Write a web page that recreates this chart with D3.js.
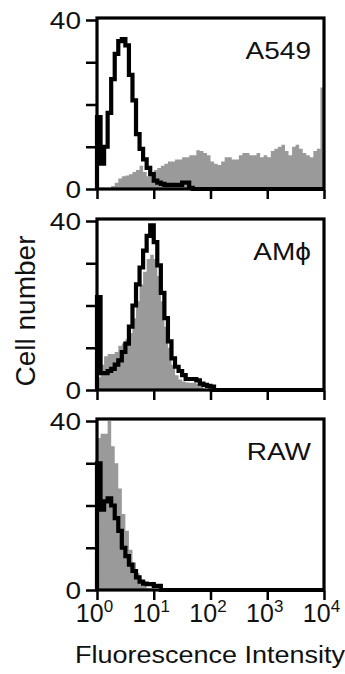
<!DOCTYPE html>
<html>
<head>
<meta charset="utf-8">
<script src="https://cdn.jsdelivr.net/npm/d3@7"></script>
<style>
  body { margin: 0; background: #fff; }
  svg text { font-family: "Liberation Sans", Arial, Helvetica, sans-serif; fill: #111; }
</style>
</head>
<body>
<svg id="chart"></svg>
<script>
// histogram channels: 16 log bins per decade, 10^0 .. 10^4
const binsPerDecade = 16;
const panelNames = ["A549", "AM\u03D5", "RAW"];

// black outline histograms (control)
const a549Line = [17, 6, 10, 18, 26, 32, 35, 35.5, 34, 27, 21, 13, 9.5, 7, 5, 3.5,
  2, 1.5, 1.2, 1, 1, 1, 1, 1, 1.5, 1.5, 0.3, 0, 0, 0, 0, 0,
  0, 0, 0, 0, 0, 0, 0, 0, 0, 0, 0, 0, 0, 0, 0, 0,
  0, 0, 0, 0, 0, 0, 0, 0, 0, 0, 0, 0, 0, 0, 0, 0];
const amLine = [22, 4, 4, 4.5, 5, 6, 7, 9, 11, 15, 20, 25, 29, 33, 36.5, 39,
  35, 29.5, 23, 17, 11.5, 7.5, 5.5, 4.5, 3.5, 2.6, 2.6, 2.6, 2.3, 1.5, 1.2, 1,
  0.8, 0, 0, 0, 0, 0, 0, 0, 0, 0, 0, 0, 0, 0, 0, 0,
  0, 0, 0, 0, 0, 0, 0, 0, 0, 0, 0, 0, 0, 0, 0, 0];
const rawLine = [30, 19, 21, 21.7, 20, 17, 14, 10, 8, 6, 4.5, 3, 2, 1.5, 1.4, 1.4,
  1, 1, 0, 0, 0, 0, 0, 0, 0, 0, 0, 0, 0, 0, 0, 0,
  0, 0, 0, 0, 0, 0, 0, 0, 0, 0, 0, 0, 0, 0, 0, 0,
  0, 0, 0, 0, 0, 0, 0, 0, 0, 0, 0, 0, 0, 0, 0, 0];

// grey filled histograms (stained)
const a549Fill = [0, 0, 0, 0, 0.7, 1.5, 2.5, 3, 3.2, 3.5, 4, 4.5, 5.5, 4, 3, 3.5,
  4.5, 5, 5.5, 6, 6.5, 6.5, 7, 7, 7.5, 7.5, 8, 8, 9.2, 9, 8.5, 8,
  6.5, 6, 5.7, 6.5, 7.5, 7.5, 7, 7, 8, 8.5, 8.5, 8, 8, 8.5, 7.5, 8,
  7.5, 9, 9.5, 10, 10.5, 9, 8, 10, 10.5, 9.5, 8.5, 8, 7.5, 9, 9.5, 24];
const amFill = [3, 6, 8, 8.5, 8.5, 9, 10.5, 11, 12, 13.5, 17, 21, 25, 28, 31, 32,
  31, 27, 21, 15, 10, 6, 3.5, 2.5, 2, 1.8, 1.7, 1.7, 1.5, 1.2, 0, 0,
  0, 0, 0, 0, 0, 0, 0, 0, 0, 0, 0, 0, 0, 0, 0, 0,
  0, 0, 0, 0, 0, 0, 0, 0, 0, 0, 0, 0, 0, 0, 0, 0];
const rawFill = [36, 37, 37, 40, 34, 30, 24, 18, 14, 9.5, 6.5, 4, 2, 1, 0.5, 0.3,
  0, 0, 0, 0, 0, 0, 0, 0, 0, 0, 0, 0, 0, 0, 0, 0,
  0, 0, 0, 0, 0, 0, 0, 0, 0, 0, 0, 0, 0, 0, 0, 0,
  0, 0, 0, 0, 0, 0, 0, 0, 0, 0, 0, 0, 0, 0, 0, 0];

const yTicks = [0, 10, 20, 30, 40];
const xTicks = [1, 10, 100, 1000, 10000];
const xTickExp = ["0", "1", "2", "3", "4"];

const panels = [
  {name: panelNames[0], line: a549Line, fill: a549Fill},
  {name: panelNames[1], line: amLine, fill: amFill},
  {name: panelNames[2], line: rawLine, fill: rawFill},
];

const width = 345, height = 674;
const margin = {left: 97, right: 21};
const panelTops = [20, 221, 421];
const panelH = 169;

const svg = d3.select("#chart")
  .attr("width", width)
  .attr("height", height);

const x = d3.scaleLog()
  .domain([1, 10000])
  .range([margin.left, width - margin.right]);

function toSteps(vals) {
  // bin i starts at 10^(i/binsPerDecade); extra point closes last bin
  let pts = [{c: 1, v: 0}];
  vals.forEach((v, i) => pts.push({c: Math.pow(10, i / binsPerDecade), v: v}));
  pts.push({c: 10000, v: vals[vals.length - 1]});
  return pts;
}

panels.forEach((p, k) => {
  const top = panelTops[k];
  const y = d3.scaleLinear()
    .domain([0, 40])
    .range([top + panelH, top]);

  const g = svg.append("g");

  const area = d3.area()
    .curve(d3.curveStepAfter)
    .x(d => x(d.c))
    .y0(y(0))
    .y1(d => y(Math.min(d.v, 40)));

  g.append("path")
    .datum(toSteps(p.fill))
    .attr("d", area)
    .attr("fill", "#9a9a9a");

  const line = d3.line()
    .curve(d3.curveStepAfter)
    .x(d => x(d.c))
    .y(d => y(Math.min(d.v, 40)));

  g.append("path")
    .datum(toSteps(p.line))
    .attr("d", line)
    .attr("fill", "none")
    .attr("stroke", "#000")
    .attr("stroke-width", 4.2)
    .attr("stroke-linejoin", "miter");

  // frame
  g.append("rect")
    .attr("x", x(1))
    .attr("y", y(40) - 2)
    .attr("width", x(10000) - x(1))
    .attr("height", y(0) - y(40) + 2)
    .attr("fill", "none")
    .attr("stroke", "#000")
    .attr("stroke-width", 3.2);

  const yAxis = g.append("g")
    .attr("transform", "translate(" + (x(1) - 1) + ",0)")
    .call(d3.axisLeft(y).tickValues(yTicks).tickSize(10).tickPadding(5)
      .tickFormat(d => (d === 0 || d === 40) ? d : ""));
  yAxis.select(".domain").remove();
  yAxis.selectAll(".tick line").attr("stroke", "#000").attr("stroke-width", 2.5);
  yAxis.selectAll(".tick text")
    .attr("font-size", 28)
    .attr("dy", "0.36em")
    .attr("transform", "scale(1,0.86)")
    .attr("fill", "#111");

  const xAxis = g.append("g")
    .attr("transform", "translate(0," + (y(0) + 1) + ")")
    .call(d3.axisBottom(x).tickValues(xTicks).tickSize(9).tickFormat(""));
  xAxis.select(".domain").remove();
  xAxis.selectAll(".tick line").attr("stroke", "#000").attr("stroke-width", 2.5);

  if (k === panels.length - 1) {
    const lab = xAxis.selectAll(".tick")
      .append("text")
      .attr("y", 31)
      .attr("x", -3)
      .attr("text-anchor", "middle")
      .attr("font-size", 25)
      .attr("fill", "#111");
    lab.append("tspan").text("10");
    lab.append("tspan")
      .attr("dy", -10)
      .attr("font-size", 17)
      .text((d, i) => xTickExp[i]);
  }

  g.append("text")
    .attr("transform", "translate(" + (x(10000) - 13) + "," + (y(40) + 39) + ") scale(1,0.86)")
    .attr("text-anchor", "end")
    .attr("font-size", 28)
    .text(p.name);
});

svg.append("text")
  .attr("transform", "translate(35,311) rotate(-90)")
  .attr("text-anchor", "middle")
  .attr("font-size", 28)
  .text("Cell number");

svg.append("text")
  .attr("transform", "translate(210,663) scale(1,0.86)")
  .attr("text-anchor", "middle")
  .attr("font-size", 27)
  .text("Fluorescence Intensity");
</script>
</body>
</html>
